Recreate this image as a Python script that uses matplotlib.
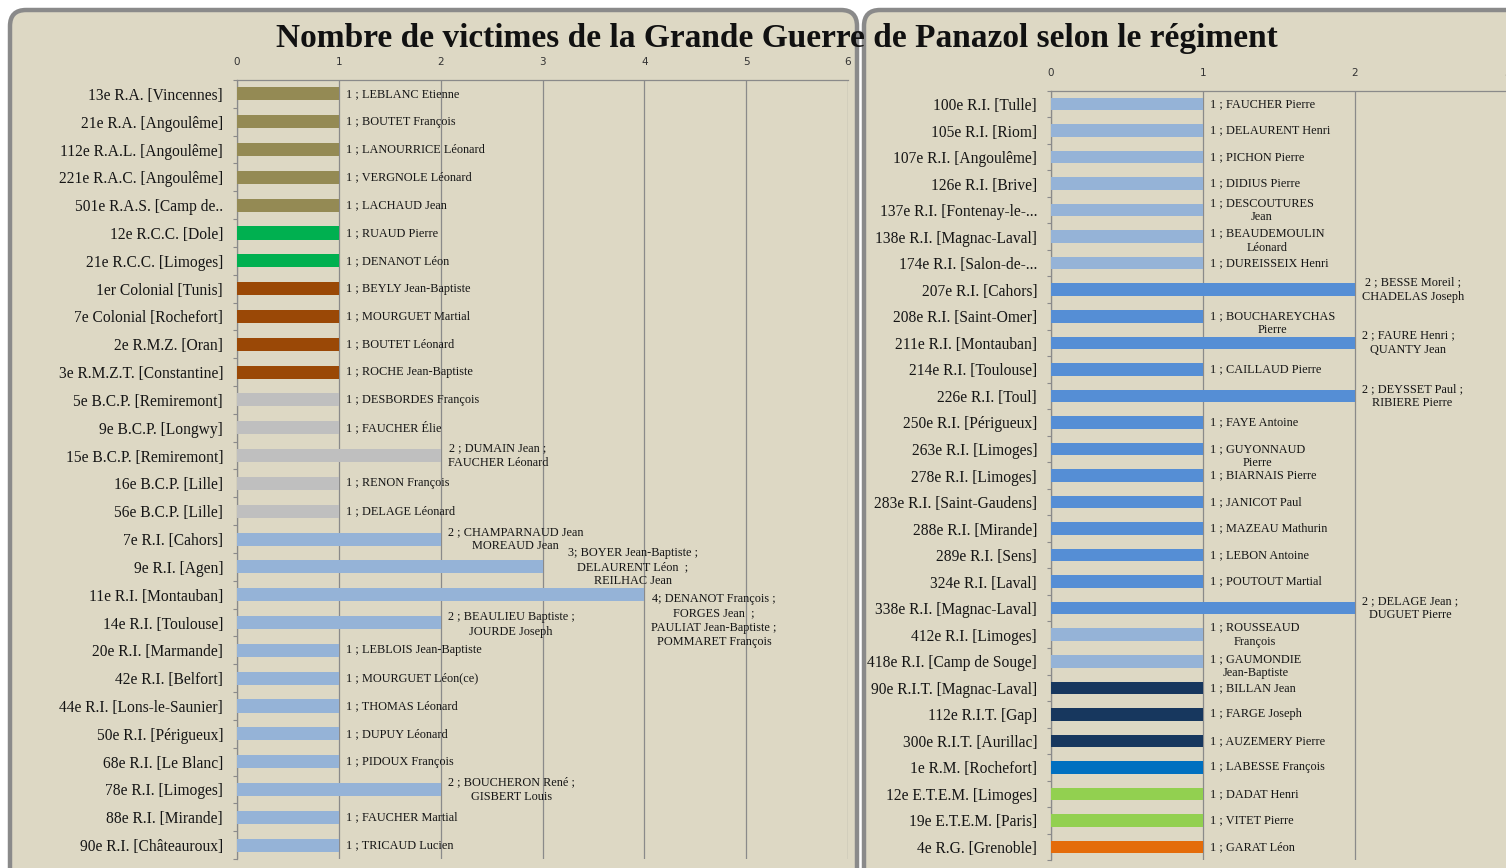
import matplotlib.pyplot as plt
import numpy as np
from matplotlib.patches import FancyBboxPatch
from matplotlib.transforms import IdentityTransform

W, H = 1506, 868

title = "Nombre de victimes de la Grande Guerre de Panazol selon le régiment"

left_regiments = [
    "13e R.A. [Vincennes]", "21e R.A. [Angoulême]", "112e R.A.L. [Angoulême]",
    "221e R.A.C. [Angoulême]", "501e R.A.S. [Camp de..", "12e R.C.C. [Dole]",
    "21e R.C.C. [Limoges]", "1er Colonial [Tunis]", "7e Colonial [Rochefort]",
    "2e R.M.Z. [Oran]", "3e R.M.Z.T. [Constantine]", "5e B.C.P. [Remiremont]",
    "9e B.C.P. [Longwy]", "15e B.C.P. [Remiremont]", "16e B.C.P. [Lille]",
    "56e B.C.P. [Lille]", "7e R.I. [Cahors]", "9e R.I. [Agen]",
    "11e R.I. [Montauban]", "14e R.I. [Toulouse]", "20e R.I. [Marmande]",
    "42e R.I. [Belfort]", "44e R.I. [Lons-le-Saunier]", "50e R.I. [Périgueux]",
    "68e R.I. [Le Blanc]", "78e R.I. [Limoges]", "88e R.I. [Mirande]",
    "90e R.I. [Châteauroux]",
]
left_counts = [1, 1, 1, 1, 1, 1, 1, 1, 1, 1, 1, 1, 1, 2, 1, 1, 2, 3, 4, 2,
               1, 1, 1, 1, 1, 2, 1, 1]
left_labels = [
    "1 ; LEBLANC Etienne", "1 ; BOUTET François", "1 ; LANOURRICE Léonard",
    "1 ; VERGNOLE Léonard", "1 ; LACHAUD Jean", "1 ; RUAUD Pierre",
    "1 ; DENANOT Léon", "1 ; BEYLY Jean-Baptiste", "1 ; MOURGUET Martial",
    "1 ; BOUTET Léonard", "1 ; ROCHE Jean-Baptiste", "1 ; DESBORDES François",
    "1 ; FAUCHER Élie", "2 ; DUMAIN Jean ;\nFAUCHER Léonard",
    "1 ; RENON François", "1 ; DELAGE Léonard",
    "2 ; CHAMPARNAUD Jean\nMOREAUD Jean",
    "3; BOYER Jean-Baptiste ;\nDELAURENT Léon  ;\nREILHAC Jean",
    "4; DENANOT François ;\nFORGES Jean  ;\nPAULIAT Jean-Baptiste ;\nPOMMARET François",
    "2 ; BEAULIEU Baptiste ;\nJOURDE Joseph",
    "1 ; LEBLOIS Jean-Baptiste", "1 ; MOURGUET Léon(ce)", "1 ; THOMAS Léonard",
    "1 ; DUPUY Léonard", "1 ; PIDOUX François",
    "2 ; BOUCHERON René ;\nGISBERT Louis",
    "1 ; FAUCHER Martial", "1 ; TRICAUD Lucien",
]
left_groups = ["RA"] * 5 + ["RCC"] * 2 + ["COL"] * 4 + ["BCP"] * 5 + ["RI"] * 12

right_regiments = [
    "100e R.I. [Tulle]", "105e R.I. [Riom]", "107e R.I. [Angoulême]",
    "126e R.I. [Brive]", "137e R.I. [Fontenay-le-...", "138e R.I. [Magnac-Laval]",
    "174e R.I. [Salon-de-...", "207e R.I. [Cahors]", "208e R.I. [Saint-Omer]",
    "211e R.I. [Montauban]", "214e R.I. [Toulouse]", "226e R.I. [Toul]",
    "250e R.I. [Périgueux]", "263e R.I. [Limoges]", "278e R.I. [Limoges]",
    "283e R.I. [Saint-Gaudens]", "288e R.I. [Mirande]", "289e R.I. [Sens]",
    "324e R.I. [Laval]", "338e R.I. [Magnac-Laval]", "412e R.I. [Limoges]",
    "418e R.I. [Camp de Souge]", "90e R.I.T. [Magnac-Laval]", "112e R.I.T. [Gap]",
    "300e R.I.T. [Aurillac]", "1e R.M. [Rochefort]", "12e E.T.E.M. [Limoges]",
    "19e E.T.E.M. [Paris]", "4e R.G. [Grenoble]",
]
right_counts = [1, 1, 1, 1, 1, 1, 1, 2, 1, 2, 1, 2, 1, 1, 1, 1, 1, 1, 1, 2,
                1, 1, 1, 1, 1, 1, 1, 1, 1]
right_labels = [
    "1 ; FAUCHER Pierre", "1 ; DELAURENT Henri", "1 ; PICHON Pierre",
    "1 ; DIDIUS Pierre", "1 ; DESCOUTURES\nJean", "1 ; BEAUDEMOULIN\nLéonard",
    "1 ; DUREISSEIX Henri", "2 ; BESSE Moreil ;\nCHADELAS Joseph",
    "1 ; BOUCHAREYCHAS\nPierre", "2 ; FAURE Henri ;\nQUANTY Jean",
    "1 ; CAILLAUD Pierre", "2 ; DEYSSET Paul ;\nRIBIERE Pierre",
    "1 ; FAYE Antoine", "1 ; GUYONNAUD\nPierre", "1 ; BIARNAIS Pierre",
    "1 ; JANICOT Paul", "1 ; MAZEAU Mathurin", "1 ; LEBON Antoine",
    "1 ; POUTOUT Martial", "2 ; DELAGE Jean ;\nDUGUET Pierre",
    "1 ; ROUSSEAUD\nFrançois", "1 ; GAUMONDIE\nJean-Baptiste",
    "1 ; BILLAN Jean", "1 ; FARGE Joseph", "1 ; AUZEMERY Pierre",
    "1 ; LABESSE François", "1 ; DADAT Henri", "1 ; VITET Pierre",
    "1 ; GARAT Léon",
]
right_groups = (["RI"] * 7 + ["RI2"] * 13 + ["RI"] * 2 + ["RIT"] * 3
                + ["RM"] + ["ETEM"] * 2 + ["RG"])

group_colors = {
    "RA": "#948A54", "RCC": "#00B050", "COL": "#9A4806", "BCP": "#BFBFBF",
    "RI": "#95B3D7", "RI2": "#558ED5", "RIT": "#17375E", "RM": "#0070C0",
    "ETEM": "#92D050", "RG": "#E46C0A",
}

# label nudges in pixels (index: (dx, dy down))
left_nudges = {17: (18, 0), 18: (0, 26), 19: (0, 2)}
right_nudges = {5: (0, 4), 8: (0, 7), 13: (0, 7), 21: (0, 5)}

bg = "#DDD8C4"
edge = "#8A8A8A"
serif = ["Liberation Serif", "DejaVu Serif"]

fig = plt.figure(figsize=(W / 100, H / 100), dpi=100)
fig.patch.set_facecolor("white")

for x0, x1 in [(10, 857), (864, 1530)]:
    frame = FancyBboxPatch((x0, -30), x1 - x0, H - 10 + 30,
                           boxstyle="round,pad=0,rounding_size=16",
                           transform=IdentityTransform(), fc=bg, ec=edge,
                           lw=3.2, zorder=-5)
    fig.add_artist(frame)


def draw_panel(rect, regiments, counts, labels, groups, xmax, nudges):
    ax = fig.add_axes(rect)
    ax.set_facecolor("none")
    n = len(regiments)
    y = np.arange(n)
    colors = [group_colors[g] for g in groups]
    ax.barh(y, counts, height=0.47, color=colors, zorder=3)
    ax.set_xlim(0, xmax)
    ax.set_ylim(n - 0.5, -0.5)
    ax.xaxis.tick_top()
    ax.set_xticks(range(0, int(xmax) + 1))
    ax.tick_params(axis="x", length=0, pad=9, labelsize=7.5, labelcolor="#333333")
    ax.set_yticks(y)
    ax.set_yticklabels(regiments, fontfamily=serif, fontsize=11.2, color="#151515")
    ax.tick_params(axis="y", which="major", length=0, pad=10)
    ax.set_yticks(np.arange(-0.5, n, 1), minor=True)
    ax.tick_params(axis="y", which="minor", length=3, color=edge, width=0.8)
    ax.grid(axis="x", color=edge, lw=0.9)
    ax.set_axisbelow(True)
    for s in ["right", "bottom"]:
        ax.spines[s].set_visible(False)
    for s in ["top", "left"]:
        ax.spines[s].set_color(edge)
        ax.spines[s].set_linewidth(0.9)
    for i, (v, t) in enumerate(zip(counts, labels)):
        dx, dy = nudges.get(i, (0, 0))
        ax.annotate(t, xy=(v, i), xytext=(7 + dx, -dy),
                    textcoords="offset pixels", ha="left", va="center",
                    multialignment="center", fontsize=8.8, linespacing=1.25,
                    fontfamily=serif, color="#151515", zorder=4)
    return ax


draw_panel([237 / W, 1 - 859 / H, 611 / W, (859 - 80) / H],
           left_regiments, left_counts, left_labels, left_groups, 6, left_nudges)
draw_panel([1051 / W, 1 - 860.3 / H, 456 / W, (860.3 - 90.7) / H],
           right_regiments, right_counts, right_labels, right_groups, 3,
           right_nudges)

fig.text(777 / W, 1 - 38 / H, title, ha="center", va="center",
         fontsize=24, fontweight="bold", fontfamily=serif, color="#111111")

fig.savefig("out.png", dpi=100, facecolor=fig.get_facecolor())
